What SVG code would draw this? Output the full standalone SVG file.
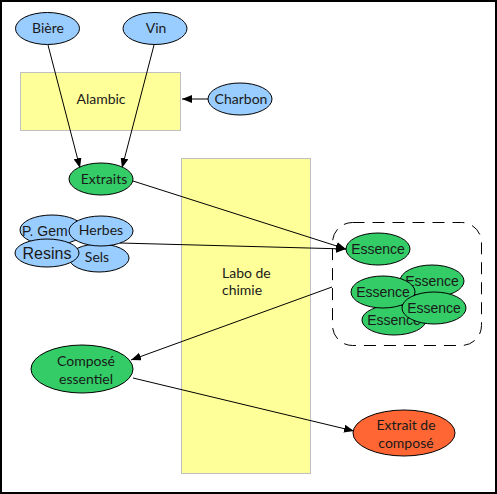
<svg xmlns="http://www.w3.org/2000/svg" width="497" height="494" viewBox="0 0 497 494">
<defs>
<style>
.b{fill:#99CCFF;stroke:#000;stroke-width:1}
.g{fill:#33CC66;stroke:#000;stroke-width:1}
.o{fill:#FF6633;stroke:#000;stroke-width:1}
.y{fill:#FFFF99;stroke:#C0C0C0;stroke-width:1}
.t{font-family:Lato,"Open Sans","Liberation Sans",sans-serif;font-size:14px;fill:#1a1a1a;text-anchor:middle}
.a{font-family:"Liberation Sans",Arial,sans-serif;font-size:14px;fill:#1a1a1a;text-anchor:middle}
.c{fill:none;stroke:#000;stroke-width:1}
</style>
<marker id="ar" viewBox="0 0 10 8" refX="10" refY="4" markerWidth="10" markerHeight="8" markerUnits="userSpaceOnUse" orient="auto">
<path d="M0,0 L10,4 L0,8 Z" fill="#000"/>
</marker>
</defs>
<rect x="1" y="1" width="495" height="492" fill="#fff" stroke="#000" stroke-width="2"/>
<g id="alambic"><rect class="y" x="20.5" y="72.5" width="160" height="58"/><text class="t" x="101" y="104">Alambic</text></g>
<g id="labo"><rect class="y" x="181.5" y="158.5" width="129" height="315"/><text class="t" x="222" y="278" style="text-anchor:start">Labo de</text><text class="t" x="222" y="295" style="text-anchor:start">chimie</text></g>
<g id="groupe-essences"><rect x="332.5" y="222.5" width="149" height="123" rx="20" ry="20" fill="none" stroke="#000" stroke-width="1" stroke-dasharray="12,8"/></g>
<g id="connectors">
<line class="c" x1="48" y1="45" x2="80" y2="168" marker-end="url(#ar)"/>
<line class="c" x1="154" y1="45" x2="122" y2="168" marker-end="url(#ar)"/>
<line class="c" x1="208" y1="99" x2="182" y2="99" marker-end="url(#ar)"/>
<line class="c" x1="133" y1="181" x2="346" y2="249" marker-end="url(#ar)"/>
<line class="c" x1="120" y1="243" x2="346" y2="249" marker-end="url(#ar)"/>
<line class="c" x1="332" y1="287" x2="131" y2="360" marker-end="url(#ar)"/>
<line class="c" x1="133" y1="378" x2="354" y2="431" marker-end="url(#ar)"/>
</g>
<g id="biere"><ellipse class="b" cx="47.5" cy="28.5" rx="32" ry="16"/><text class="t" x="48" y="33">Bière</text></g>
<g id="vin"><ellipse class="b" cx="155" cy="28.5" rx="32" ry="16"/><text class="t" x="156" y="33">Vin</text></g>
<g id="charbon"><ellipse class="b" cx="240" cy="99" rx="32" ry="16"/><text class="t" x="241" y="104">Charbon</text></g>
<g id="extraits"><ellipse class="g" cx="101" cy="179" rx="32" ry="16"/><text class="t" x="104" y="184">Extraits</text></g>
<g id="pgem"><ellipse class="b" cx="52" cy="230" rx="32" ry="15"/><text class="a" x="22" y="236" style="text-anchor:start">P. Gem</text></g>
<g id="sels"><ellipse class="b" cx="99" cy="258" rx="30" ry="14"/><text class="t" x="97" y="262">Sels</text></g>
<g id="herbes"><ellipse class="b" cx="101" cy="231" rx="32" ry="15"/><text class="t" x="101" y="235">Herbes</text></g>
<g id="resins"><ellipse class="b" cx="47" cy="253" rx="32" ry="14"/><text class="a" x="47" y="259" style="font-size:16px">Resins</text></g>
<g id="essence1"><ellipse class="g" cx="378" cy="249" rx="32" ry="16"/><text class="a" x="378" y="254">Essence</text></g>
<g id="essence4"><ellipse class="g" cx="394" cy="320" rx="32" ry="15"/><text class="a" x="394" y="325">Essence</text></g>
<g id="essence2"><ellipse class="g" cx="432" cy="281" rx="32" ry="16"/><text class="a" x="432" y="286">Essence</text></g>
<g id="essence3"><ellipse class="g" cx="383" cy="292" rx="32" ry="16"/><text class="a" x="383" y="297">Essence</text></g>
<g id="essence5"><ellipse class="g" cx="434" cy="308" rx="32" ry="16"/><text class="a" x="434" y="313">Essence</text></g>
<g id="compose"><ellipse class="g" cx="82" cy="369" rx="51" ry="24"/><text class="t" x="86" y="366">Composé</text><text class="t" x="86" y="384">essentiel</text></g>
<g id="extrait-compose"><ellipse class="o" cx="404" cy="433" rx="51" ry="23"/><text class="t" x="406" y="430">Extrait de</text><text class="t" x="406" y="448">composé</text></g>
</svg>
